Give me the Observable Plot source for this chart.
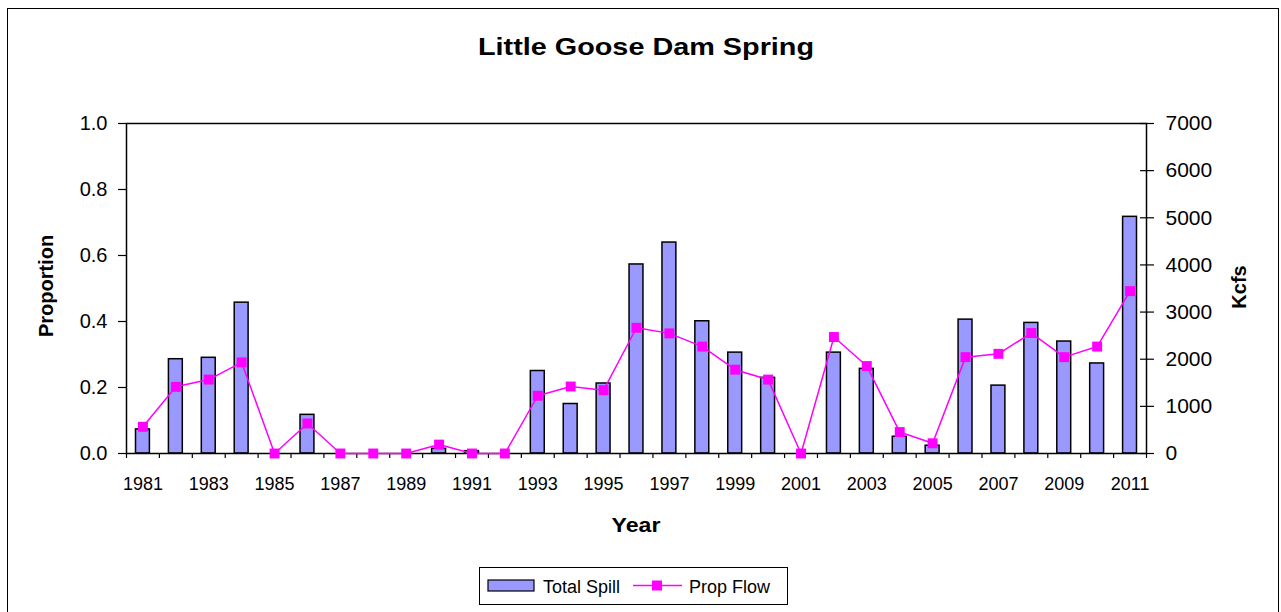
<!DOCTYPE html>
<html>
<head>
<meta charset="utf-8">
<script src="https://cdn.jsdelivr.net/npm/d3@7"></script>
<script src="https://cdn.jsdelivr.net/npm/@observablehq/plot@0.6"></script>
<style>
  html, body { margin: 0; padding: 0; background: #fff; }
  #wrap { position: relative; width: 1281px; height: 612px; overflow: hidden; font-family: "Liberation Sans", Arial, sans-serif; color: #000; }
  #border { position: absolute; left: 7px; top: 8px; width: 1272px; height: 700px; border: 1.5px solid #000; box-sizing: border-box; }
  #chart { position: absolute; left: 0; top: 0; }
  .lbl { position: absolute; font-weight: bold; white-space: nowrap; }
  #title { left: 646px; top: 55px; font-size: 24px; transform: translate(-50%, -80%) scaleX(1.2); }
  #ylab { left: 46px; top: 286px; font-size: 20px; transform: translate(-50%, -50%) rotate(-90deg); }
  #y2lab { left: 1239px; top: 287px; font-size: 20px; transform: translate(-50%, -50%) rotate(-90deg); }
  #xlab { left: 636px; top: 532px; font-size: 21px; transform: translate(-50%, -80%) scaleX(1.1); }
  #legend { position: absolute; left: 479px; top: 567px; width: 309px; height: 38px; border: 1px solid #000; box-sizing: border-box; background: #fff; }
</style>
</head>
<body>
<div id="wrap">
  <div id="border"></div>
  <div id="chart"></div>
  <div id="title" class="lbl">Little Goose Dam Spring</div>
  <div id="ylab" class="lbl">Proportion</div>
  <div id="y2lab" class="lbl">Kcfs</div>
  <div id="xlab" class="lbl">Year</div>
  <div id="legend"></div>
</div>
<script>
// ---- Data ----
const years = [1981, 1982, 1983, 1984, 1985, 1986, 1987, 1988, 1989, 1990,
               1991, 1992, 1993, 1994, 1995, 1996, 1997, 1998, 1999, 2000,
               2001, 2002, 2003, 2004, 2005, 2006, 2007, 2008, 2009, 2010, 2011];
// Total Spill, Kcfs (right axis)
const totalSpill = [510, 2000, 2030, 3200, 0, 820, 0, 0, 0, 100,
                    50, 0, 1750, 1050, 1485, 4010, 4475, 2805, 2140, 1605,
                    0, 2140, 1795, 355, 165, 2840, 1440, 2770, 2375, 1910, 5020];
// Prop Flow, proportion (left axis)
const propFlow = [0.081, 0.202, 0.224, 0.276, 0, 0.091, 0, 0, 0, 0.027,
                  0, 0, 0.175, 0.203, 0.192, 0.381, 0.364, 0.324, 0.254, 0.224,
                  0, 0.353, 0.265, 0.065, 0.031, 0.292, 0.302, 0.365, 0.292, 0.324, 0.492];
const leftTicks = [0, 0.2, 0.4, 0.6, 0.8, 1.0];
const rightTicks = [0, 1000, 2000, 3000, 4000, 5000, 6000, 7000];
const xLabelYears = [1981, 1983, 1985, 1987, 1989, 1991, 1993, 1995, 1997, 1999,
                     2001, 2003, 2005, 2007, 2009, 2011];
const seriesNames = ["Total Spill", "Prop Flow"];

const kcfsMax = 7000;
const data = years.map((year, i) => ({year, spill: totalSpill[i], prop: propFlow[i]}));
const boundaries = d3.range(years[0] - 0.5, years[years.length - 1] + 1, 1);

const barFill = "#9999ff";
const lineColor = "#ff00ff";

const chart = Plot.plot({
  width: 1281,
  height: 612,
  marginTop: 123,
  marginBottom: 159,
  marginLeft: 126,
  marginRight: 135,
  style: {fontFamily: "'Liberation Sans', Arial, sans-serif", color: "#000", background: "transparent", overflow: "visible"},
  x: {type: "linear", domain: [years[0] - 0.5, years[years.length - 1] + 0.5]},
  y: {domain: [0, 1]},
  marks: [
    Plot.rectY(data.filter(d => d.spill > 0), {
      x1: d => d.year - 0.5, x2: d => d.year + 0.5,
      y1: 0, y2: d => d.spill / kcfsMax,
      insetLeft: 9.5, insetRight: 9.5,
      fill: barFill, stroke: "#000", strokeWidth: 1.5
    }),
    Plot.frame({stroke: "#000", strokeWidth: 1.5}),
    Plot.axisY(leftTicks, {anchor: "left", tickSize: 8, tickPadding: 11, fontSize: 20, tickFormat: d3.format(".1f"), label: null, strokeWidth: 1.2}),
    Plot.axisY(rightTicks.map(v => v / kcfsMax), {anchor: "right", tickSize: 7, tickPadding: 12, fontSize: 21, tickFormat: d => String(Math.round(d * kcfsMax)), label: null, strokeWidth: 1.2}),
    Plot.axisY(rightTicks.map(v => v / kcfsMax), {anchor: "right", tickSize: -7, tickFormat: () => "", label: null, strokeWidth: 1.2}),
    Plot.axisX(boundaries, {anchor: "bottom", tickSize: 5, tickFormat: () => "", label: null, strokeWidth: 1.2}),
    Plot.axisX(xLabelYears, {anchor: "bottom", tickSize: 0, tickPadding: 24, fontSize: 18, tickFormat: d => String(d), label: null}),
    Plot.line(data, {x: "year", y: "prop", stroke: lineColor, strokeWidth: 1.5}),
    Plot.dot(data, {x: "year", y: "prop", symbol: "square", r: 5.6, fill: lineColor, stroke: "none"})
  ]
});
document.getElementById("chart").appendChild(chart);

// ---- Legend ----
const ns = "http://www.w3.org/2000/svg";
const lg = document.createElementNS(ns, "svg");
lg.setAttribute("width", 307);
lg.setAttribute("height", 36);
lg.style.fontFamily = "'Liberation Sans', Arial, sans-serif";
function el(tag, attrs, text) {
  const e = document.createElementNS(ns, tag);
  for (const k in attrs) e.setAttribute(k, attrs[k]);
  if (text) e.textContent = text;
  lg.appendChild(e);
  return e;
}
el("rect", {x: 8, y: 12, width: 46, height: 11, fill: barFill, stroke: "#000", "stroke-width": 1.2});
el("text", {x: 63, y: 24.5, "font-size": 18}, seriesNames[0]);
el("line", {x1: 153, x2: 202, y1: 17.5, y2: 17.5, stroke: lineColor, "stroke-width": 1.5});
el("rect", {x: 172, y: 12.5, width: 10, height: 10, fill: lineColor});
el("text", {x: 209, y: 24.5, "font-size": 18}, seriesNames[1]);
document.getElementById("legend").appendChild(lg);
</script>
</body>
</html>
